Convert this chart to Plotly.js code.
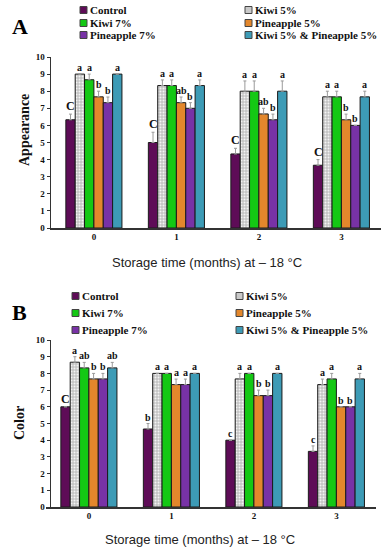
<!DOCTYPE html>
<html><head><meta charset="utf-8">
<script src="https://cdn.plot.ly/plotly-3.0.1.min.js"></script>
<style>html,body{margin:0;padding:0;background:#fff}#chart{width:388px;height:550px}</style>
</head><body><div id="chart"></div>
<script>
// ---- data ----
const months = ['0', '1', '2', '3'];
const seriesNames = ['Control', 'Kiwi 5%', 'Kiwi 7%', 'Pineapple 5%', 'Pineapple 7%', 'Kiwi 5% & Pineapple 5%'];

// Panel A: Appearance
const appControl = [6.33, 5.0, 4.33, 3.67];
const appKiwi5 = [9.0, 8.33, 8.0, 7.67];
const appKiwi7 = [8.67, 8.33, 8.0, 7.67];
const appPine5 = [7.67, 7.33, 6.67, 6.33];
const appPine7 = [7.33, 7.0, 6.33, 6.0];
const appMix = [9.0, 8.33, 8.0, 7.67];
const appErrControl = [0.33, 0.6, 0.33, 0.33];
const appErrKiwi5 = [0, 0.33, 0.6, 0.33];
const appErrKiwi7 = [0.33, 0.33, 0.6, 0.33];
const appErrPine5 = [0.33, 0.33, 0.33, 0.33];
const appErrPine7 = [0.33, 0.33, 0.33, 0];
const appErrMix = [0, 0.33, 0.6, 0.33];
const appLetControl = ['C', 'C', 'C', 'C'];
const appLetKiwi5 = ['a', 'a', 'a', 'a'];
const appLetKiwi7 = ['a', 'a', 'a', 'a'];
const appLetPine5 = ['b', 'ab', 'ab', 'b'];
const appLetPine7 = ['b', 'b', 'b', 'b'];
const appLetMix = ['a', 'a', 'a', 'a'];

// Panel B: Color
const colControl = [6.0, 4.67, 4.0, 3.33];
const colKiwi5 = [8.67, 8.0, 7.67, 7.33];
const colKiwi7 = [8.33, 8.0, 8.0, 7.67];
const colPine5 = [7.67, 7.33, 6.67, 6.0];
const colPine7 = [7.67, 7.33, 6.67, 6.0];
const colMix = [8.33, 8.0, 8.0, 7.67];
const colErrControl = [0, 0.33, 0, 0.33];
const colErrKiwi5 = [0.33, 0, 0.33, 0.33];
const colErrKiwi7 = [0.33, 0, 0, 0.33];
const colErrPine5 = [0.33, 0.33, 0.33, 0];
const colErrPine7 = [0.33, 0.33, 0.33, 0];
const colErrMix = [0.33, 0, 0, 0.33];
const colLetControl = ['C', 'b', 'c', 'c'];
const colLetKiwi5 = ['a', 'a', 'a', 'a'];
const colLetKiwi7 = ['ab', 'a', 'a', 'a'];
const colLetPine5 = ['b', 'a', 'b', 'b'];
const colLetPine7 = ['b', 'a', 'b', 'b'];
const colLetMix = ['ab', 'a', 'a', 'a'];

const yTicks = [0, 1, 2, 3, 4, 5, 6, 7, 8, 9, 10];
const xTitle = 'Storage time (months) at \u2013 18 \u00b0C';

// ---- styles ----
const fills = ['#5e0c57', '#c9c9c9', '#14c814', '#e3872c', '#7832a6', '#3d9bb6'];
const serif = 'Liberation Serif, Times New Roman, serif';
const sans = 'Liberation Sans, Arial, sans-serif';
const bargap = 0.32;
const W = 388, H = 550;
const px = v => v / W, py = v => 1 - v / H;

const panels = [
  {vals: [appControl, appKiwi5, appKiwi7, appPine5, appPine7, appMix],
   errs: [appErrControl, appErrKiwi5, appErrKiwi7, appErrPine5, appErrPine7, appErrMix],
   lets: [appLetControl, appLetKiwi5, appLetKiwi7, appLetPine5, appLetPine7, appLetMix],
   xa: 'x', ya: 'y', letter: 'A', letterY: 27, ytitle: 'Appearance', ytX: 25, ytY: 130,
   xtX: 207, xtY: 262, legX: [80, 245], legY: [10, 23, 35]},
  {vals: [colControl, colKiwi5, colKiwi7, colPine5, colPine7, colMix],
   errs: [colErrControl, colErrKiwi5, colErrKiwi7, colErrPine5, colErrPine7, colErrMix],
   lets: [colLetControl, colLetKiwi5, colLetKiwi7, colLetPine5, colLetPine7, colLetMix],
   xa: 'x2', ya: 'y2', letter: 'B', letterY: 312, ytitle: 'Color', ytX: 19, ytY: 423,
   xtX: 200, xtY: 539, legX: [72, 236], legY: [296, 313, 330]}
];

const traces = [];
const annotations = [];
const shapes = [];
panels.forEach((p, pi) => {
  p.vals.forEach((v, i) => {
    const marker = {color: fills[i], line: {color: '#1a1a1a', width: 1}};
    if (i === 1) marker.pattern = {shape: '.', bgcolor: '#c4c4c4', fgcolor: '#f4f4f4', size: 3, solidity: 0.35};
    traces.push({
      type: 'bar', name: seriesNames[i], x: months.map(Number), y: v,
      xaxis: p.xa, yaxis: p.ya, showlegend: false, marker: marker,
      error_y: {type: 'data', symmetric: false, array: p.errs[i], arrayminus: v.map(() => 0),
                color: '#9a9a9a', thickness: 1, width: 1.5},
      hoverinfo: 'skip'
    });
    v.forEach((val, k) => {
      const off = (-0.5 + (i + 0.5) / 6) * (1 - bargap);
      annotations.push({
        xref: p.xa, yref: p.ya, x: k + off, y: val + p.errs[i][k],
        text: p.lets[i][k], showarrow: false, yanchor: 'bottom', yshift: -1,
        font: {family: serif, size: p.lets[i][k] === 'C' ? 12 : 10, color: '#111', weight: 'bold'}
      });
    });
    // legend entry (2 columns x 3 rows)
    const col = i % 2, row = Math.floor(i / 2);
    const sx = p.legX[col], sy = p.legY[row];
    shapes.push({type: 'rect', xref: 'paper', yref: 'paper', x0: px(sx), x1: px(sx + 7),
      y0: py(sy + 3.5), y1: py(sy - 3.5), fillcolor: fills[i], line: {color: '#444', width: 1}});
    annotations.push({xref: 'paper', yref: 'paper', x: px(sx + 8), y: py(sy), xanchor: 'left', yanchor: 'middle',
      text: seriesNames[i], showarrow: false, font: {family: serif, size: 11, color: '#111', weight: 'bold'}});
  });
  annotations.push({xref: 'paper', yref: 'paper', x: px(10), y: py(p.letterY), text: '<b>' + p.letter + '</b>',
    showarrow: false, xanchor: 'left', yanchor: 'middle', font: {family: serif, size: 22, color: '#000'}});
  annotations.push({xref: 'paper', yref: 'paper', x: px(p.ytX), y: py(p.ytY), text: p.ytitle, textangle: -90,
    showarrow: false, xanchor: 'center', yanchor: 'middle', font: {family: serif, size: 14, color: '#111', weight: 'bold'}});
  annotations.push({xref: 'paper', yref: 'paper', x: px(p.xtX), y: py(p.xtY), text: xTitle,
    showarrow: false, xanchor: 'center', yanchor: 'middle', font: {family: sans, size: 13, color: '#222'}});
});

function yax(domain) {
  return {domain: domain, range: [0, 10], tickvals: yTicks, ticks: 'outside', ticklen: 3,
    tickcolor: '#333', showgrid: false, zeroline: false, showline: true, linecolor: '#333', linewidth: 1.5,
    tickfont: {family: serif, size: 9, color: '#111', weight: 'bold'}, fixedrange: true};
}
function xax(domain, anchor) {
  return {domain: domain, anchor: anchor, range: [-0.52, 3.48], tickvals: [0, 1, 2, 3], ticktext: months,
    showgrid: false, zeroline: false, showline: true, linecolor: '#333', linewidth: 1.5, ticks: '',
    tickfont: {family: serif, size: 9, color: '#111', weight: 'bold'}, fixedrange: true};
}

const layout = {
  width: W, height: H, margin: {l: 0, r: 0, t: 0, b: 0},
  paper_bgcolor: '#fff', plot_bgcolor: '#fff',
  barmode: 'group', bargap: bargap, bargroupgap: 0, showlegend: false,
  xaxis: xax([px(51), px(381)], 'y'),
  yaxis: yax([py(228), py(57)]),
  xaxis2: xax([px(46), px(376)], 'y2'),
  yaxis2: yax([py(507), py(340)]),
  annotations: annotations, shapes: shapes
};

Plotly.newPlot('chart', traces, layout, {displayModeBar: false, staticPlot: true});
</script></body></html>
